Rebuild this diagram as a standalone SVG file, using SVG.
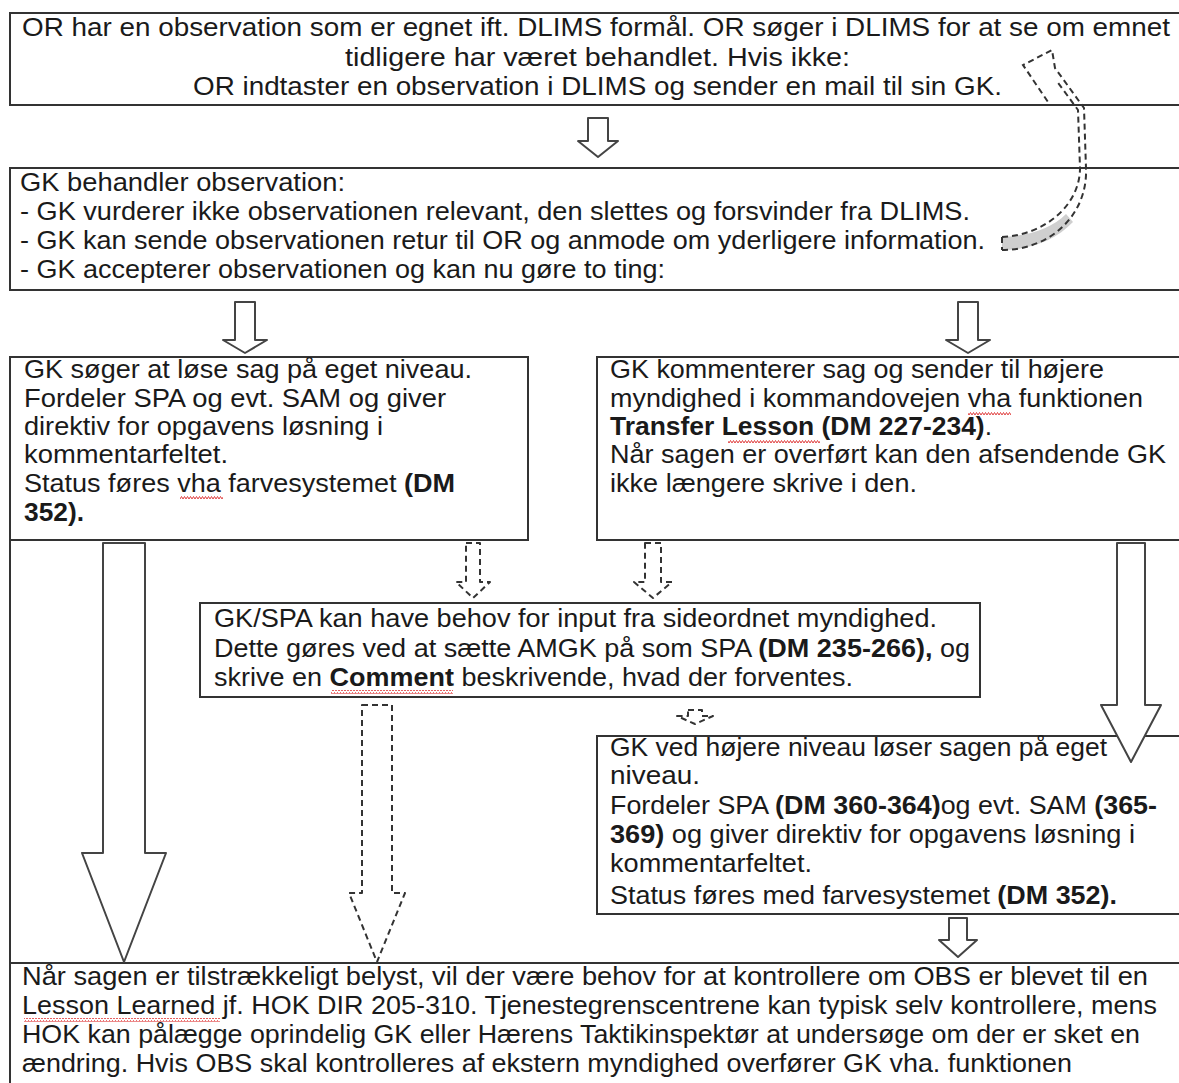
<svg xmlns="http://www.w3.org/2000/svg" width="1179" height="1083" viewBox="0 0 1179 1083">
  <style>
    .box { fill: #fff; stroke: #333; stroke-width: 2; }
    .t { font-family: "Liberation Sans", Arial, sans-serif; font-size: 25px; fill: #1a1a1a; }
    .b { font-weight: bold; }
    .hollow { fill: #fff; stroke: #444; stroke-width: 2; stroke-linejoin: round; }
    .dash { fill: #fff; stroke: #333; stroke-width: 2; stroke-dasharray: 6 4; stroke-linejoin: round; }
    .dline { fill: none; stroke: #333; stroke-width: 2; stroke-dasharray: 6 4; }
  </style>
  <defs>
    <pattern id="wave" width="6" height="4" patternUnits="userSpaceOnUse">
      <path d="M0,3 L1.5,0.5 L3,3 L4.5,0.5 L6,3" fill="none" stroke="#e04040" stroke-width="1"/>
    </pattern>
  </defs>
  <rect width="1179" height="1083" fill="#fff"/>

  <!-- outer left rule running down beside the lower boxes -->
  <line x1="10" y1="540" x2="10" y2="963" stroke="#333" stroke-width="2"/>

  <g id="node-observation">
    <rect class="box" x="10" y="13" width="1185" height="92"/>
    <text class="t" x="22" y="36" textLength="1148" lengthAdjust="spacingAndGlyphs">OR har en observation som er egnet ift. DLIMS formål. OR søger i DLIMS for at se om emnet</text>
    <text class="t" x="345" y="66" textLength="505" lengthAdjust="spacingAndGlyphs">tidligere har været behandlet. Hvis ikke:</text>
    <text class="t" x="193" y="95" textLength="809" lengthAdjust="spacingAndGlyphs">OR indtaster en observation i DLIMS og sender en mail til sin GK.</text>
  </g>

  <g id="node-gk-behandler">
    <rect class="box" x="10" y="168" width="1185" height="122"/>
    <text class="t" x="20" y="191" textLength="325" lengthAdjust="spacingAndGlyphs">GK behandler observation:</text>
    <text class="t" x="20" y="220" textLength="950" lengthAdjust="spacingAndGlyphs">- GK vurderer ikke observationen relevant, den slettes og forsvinder fra DLIMS.</text>
    <text class="t" x="20" y="249" textLength="965" lengthAdjust="spacingAndGlyphs">- GK kan sende observationen retur til OR og anmode om yderligere information.</text>
    <text class="t" x="20" y="278" textLength="645" lengthAdjust="spacingAndGlyphs">- GK accepterer observationen og kan nu gøre to ting:</text>
  </g>

  <g id="node-eget-niveau">
    <rect class="box" x="10" y="357" width="518" height="183"/>
    <text class="t" x="24" y="378" textLength="448" lengthAdjust="spacingAndGlyphs">GK søger at løse sag på eget niveau.</text>
    <text class="t" x="24" y="407" textLength="422" lengthAdjust="spacingAndGlyphs">Fordeler SPA og evt. SAM og giver</text>
    <text class="t" x="24" y="435" textLength="359" lengthAdjust="spacingAndGlyphs">direktiv for opgavens løsning i</text>
    <text class="t" x="24" y="463" textLength="204" lengthAdjust="spacingAndGlyphs">kommentarfeltet.</text>
    <text class="t" x="24" y="492" textLength="431" lengthAdjust="spacingAndGlyphs">Status føres vha farvesystemet <tspan class="b">(DM</tspan></text>
    <text class="t b" x="24" y="521" textLength="60" lengthAdjust="spacingAndGlyphs">352).</text>
    <rect x="180" y="496" width="43" height="4" fill="url(#wave)"/>
  </g>

  <g id="node-transfer">
    <rect class="box" x="597" y="357" width="598" height="183"/>
    <text class="t" x="610" y="378" textLength="494" lengthAdjust="spacingAndGlyphs">GK kommenterer sag og sender til højere</text>
    <text class="t" x="610" y="407" textLength="533" lengthAdjust="spacingAndGlyphs">myndighed i kommandovejen vha funktionen</text>
    <text class="t" x="610" y="435" textLength="382" lengthAdjust="spacingAndGlyphs"><tspan class="b">Transfer Lesson (DM 227-234)</tspan>.</text>
    <text class="t" x="610" y="463" textLength="556" lengthAdjust="spacingAndGlyphs">Når sagen er overført kan den afsendende GK</text>
    <text class="t" x="610" y="492" textLength="307" lengthAdjust="spacingAndGlyphs">ikke længere skrive i den.</text>
    <rect x="968" y="411" width="43" height="4" fill="url(#wave)"/>
    <rect x="728" y="439" width="92" height="4" fill="url(#wave)"/>
  </g>

  <g id="node-sideordnet">
    <rect class="box" x="200" y="603" width="780" height="94"/>
    <text class="t" x="214" y="627" textLength="723" lengthAdjust="spacingAndGlyphs">GK/SPA kan have behov for input fra sideordnet myndighed.</text>
    <text class="t" x="214" y="657" textLength="756" lengthAdjust="spacingAndGlyphs">Dette gøres ved at sætte AMGK på som SPA <tspan class="b">(DM 235-266),</tspan> og</text>
    <text class="t" x="214" y="686" textLength="639" lengthAdjust="spacingAndGlyphs">skrive en <tspan class="b">Comment</tspan> beskrivende, hvad der forventes.</text>
    <rect x="331" y="690" width="122" height="4" fill="url(#wave)"/>
  </g>

  <g id="node-hoejere-niveau">
    <rect class="box" x="597" y="736" width="598" height="178"/>
    <text class="t" x="610" y="756" textLength="497" lengthAdjust="spacingAndGlyphs">GK ved højere niveau løser sagen på eget</text>
    <text class="t" x="610" y="784" textLength="90" lengthAdjust="spacingAndGlyphs">niveau.</text>
    <text class="t" x="610" y="814" textLength="547" lengthAdjust="spacingAndGlyphs">Fordeler SPA <tspan class="b">(DM 360-364)</tspan>og evt. SAM <tspan class="b">(365-</tspan></text>
    <text class="t" x="610" y="843" textLength="525" lengthAdjust="spacingAndGlyphs"><tspan class="b">369)</tspan> og giver direktiv for opgavens løsning i</text>
    <text class="t" x="610" y="872" textLength="202" lengthAdjust="spacingAndGlyphs">kommentarfeltet.</text>
    <text class="t" x="610" y="904" textLength="507" lengthAdjust="spacingAndGlyphs">Status føres med farvesystemet <tspan class="b">(DM 352).</tspan></text>
  </g>

  <g id="node-lesson-learned">
    <rect class="box" x="10" y="963" width="1185" height="140"/>
    <text class="t" x="22" y="985" textLength="1126" lengthAdjust="spacingAndGlyphs">Når sagen er tilstrækkeligt belyst, vil der være behov for at kontrollere om OBS er blevet til en</text>
    <text class="t" x="22" y="1014" textLength="1135" lengthAdjust="spacingAndGlyphs">Lesson Learned jf. HOK DIR 205-310. Tjenestegrenscentrene kan typisk selv kontrollere, mens</text>
    <text class="t" x="22" y="1043" textLength="1118" lengthAdjust="spacingAndGlyphs">HOK kan pålægge oprindelig GK eller Hærens Taktikinspektør at undersøge om der er sket en</text>
    <text class="t" x="22" y="1072" textLength="1050" lengthAdjust="spacingAndGlyphs">ændring. Hvis OBS skal kontrolleres af ekstern myndighed overfører GK vha. funktionen</text>
    <rect x="24" y="1018" width="196" height="4" fill="url(#wave)"/>
  </g>

  <g id="connectors">
    <!-- block arrows -->
    <polygon class="hollow" points="588,118 608,118 608,141 618,141 598,157 578,141 588,141"/>
    <polygon class="hollow" points="235,302 255,302 255,340 267,340 245,353 223,340 235,340"/>
    <polygon class="hollow" points="958,302 978,302 978,340 990,340 968,353 946,340 958,340"/>
    <polygon class="hollow" points="103,543 145,543 145,853 166,853 124,962 82,853 103,853"/>
    <polygon class="hollow" points="1117,543 1145,543 1145,705 1161,705 1131,762 1101,705 1117,705"/>
    <polygon class="hollow" points="949,918 967,918 967,940 977,940 958,957 939,940 949,940"/>

    <!-- dashed block arrows -->
    <polygon class="dash" points="466,543 480,543 480,582 490,582 473,598 456,582 466,582"/>
    <polygon class="dash" points="645,543 661,543 661,582 672,582 653,598 634,582 645,582"/>
    <polygon class="dash" points="362,705 392,705 392,893 405,893 377,962 349,893 362,893"/>
    <polygon class="dash" points="688,710 702,710 702,716 713,716 695,724 677,716 688,716"/>

    <!-- curved return arrow back to OR -->
    <path d="M1002,237 C1030,236 1052,228 1066,214 L1073,222 C1056,240 1030,250 1002,250 Z" fill="#cfcfcf"/>
    <path class="dline" d="M1002,250 C1050,250 1088,215 1086,168 L1084,108 L1055,68 L1052,50 L1023,65 L1048,102"/>
    <path class="dline" d="M1002,237 C1045,235 1080,205 1080,168 L1078,110 L1056,80"/>
    <path class="dline" d="M1002,237 L1002,250"/>
  </g>
</svg>
